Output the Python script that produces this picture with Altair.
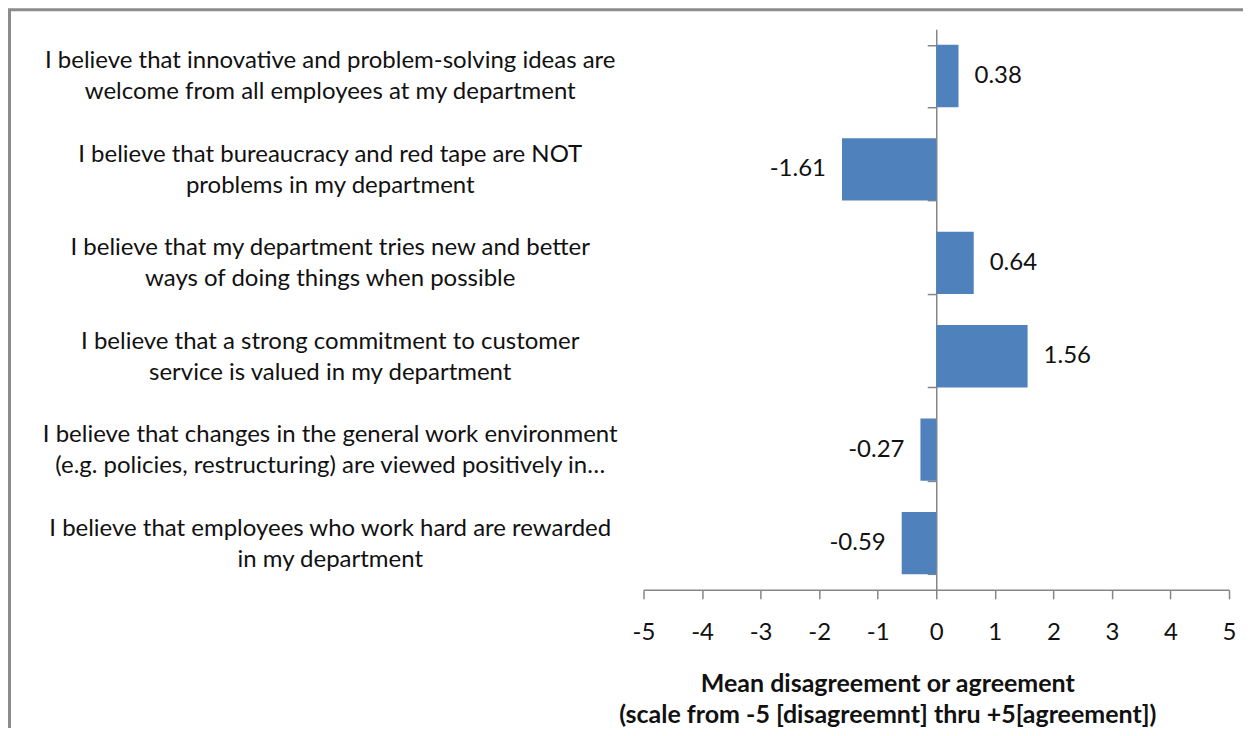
import altair as alt
import pandas as pd

categories = [
    "I believe that innovative and problem-solving ideas are|welcome from all employees at my department",
    "I believe that bureaucracy and red tape are NOT|problems in my department",
    "I believe that my department tries new and better|ways of doing things when possible",
    "I believe that a strong commitment to customer|service is valued in my department",
    "I believe that changes in the general work environment|(e.g. policies, restructuring) are viewed positively in…",
    "I believe that employees who work hard are rewarded|in my department",
]
values = [0.38, -1.61, 0.64, 1.56, -0.27, -0.59]
x_ticks = [-5, -4, -3, -2, -1, 0, 1, 2, 3, 4, 5]
x_title = ["Mean disagreement or agreement", "(scale from -5 [disagreemnt] thru +5[agreement])"]

df = pd.DataFrame({"item": categories, "mean": values})
df["label"] = [f"{v:.2f}" for v in values]

W, H = 586, 561
FONT = "Lato"
FS = 24
TXT = "#111111"
AX = "#868686"

xscale = alt.Scale(domain=[-5, 5], nice=False, zero=False)
yscale = alt.Scale(domain=categories, paddingInner=1 / 3, paddingOuter=1 / 6)

bars = alt.Chart(df).mark_bar(color="#4F81BD").encode(
    x=alt.X(
        "mean:Q",
        scale=xscale,
        axis=alt.Axis(
            values=x_ticks,
            grid=False,
            domainColor=AX,
            domainWidth=1.5,
            tickColor=AX,
            tickWidth=1.5,
            tickSize=9,
            labelFont=FONT,
            labelFontSize=FS,
            labelColor=TXT,
            labelBaseline="top",
            labelPadding=22,
            labelFlush=False,
            labelOverlap=False,
            labelExpr="'' + datum.value",
            title=x_title,
            titleFont=FONT,
            titleFontSize=25,
            titleFontWeight="bold",
            titleColor=TXT,
            titleX=244,
            titleY=102,
            titleAlign="center",
            titleBaseline="alphabetic",
            titleLineHeight=31,
        ),
    ),
    y=alt.Y(
        "item:N",
        sort=categories,
        scale=yscale,
        axis=alt.Axis(
            orient="left",
            offset=-293,
            title=None,
            grid=False,
            tickBand="extent",
            domainColor=AX,
            domainWidth=1.5,
            tickColor=AX,
            tickWidth=1.5,
            tickSize=9,
            labelFont=FONT,
            labelFontSize=FS,
            labelColor=TXT,
            labelAlign="center",
            labelBaseline="middle",
            labelLineHeight=31,
            labelOffset=-15,
            labelPadding=598,
            labelLimit=2000,
            labelOverlap=False,
            labelExpr="split(datum.label, '|')",
        ),
    ),
)

pos_text = alt.Chart(df).transform_filter("datum.mean >= 0").mark_text(
    align="left", baseline="middle", dx=16, font=FONT, fontSize=FS, color=TXT
).encode(
    x="mean:Q",
    y=alt.Y("item:N", sort=categories),
    text="label:N",
)

neg_text = alt.Chart(df).transform_filter("datum.mean < 0").mark_text(
    align="right", baseline="middle", dx=-16, font=FONT, fontSize=FS, color=TXT
).encode(
    x="mean:Q",
    y=alt.Y("item:N", sort=categories),
    text="label:N",
)

border = alt.Chart(pd.DataFrame({"b": [0]})).mark_rect(
    fill="transparent", stroke="#8c8c8c", strokeWidth=3
).encode(
    x=alt.value(-634.5), x2=alt.value(700), y=alt.value(-19.5), y2=alt.value(800)
)

chart = alt.layer(bars, pos_text, neg_text, border).properties(
    width=W,
    height=H,
    padding={"left": 636, "top": 21, "right": 14, "bottom": 138},
    autosize="none",
    background="white",
).configure_view(stroke=None)

chart.save("out.html", embed_options={"renderer": "svg", "actions": False})
